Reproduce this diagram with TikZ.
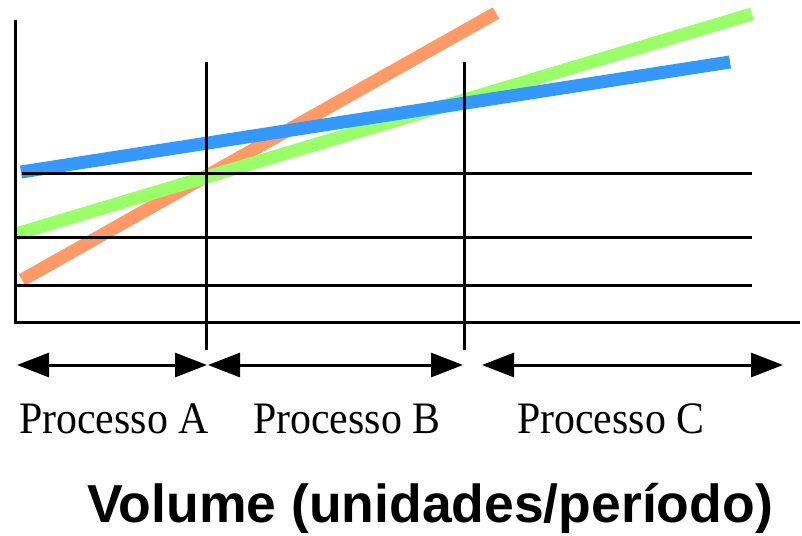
\documentclass[tikz,border=0pt]{standalone}
\usepackage{fontspec}
\setmainfont{Liberation Serif}
\newfontfamily\labelsans{Liberation Sans}
\usetikzlibrary{arrows.meta}

\definecolor{costA}{HTML}{FF9966}
\definecolor{costB}{HTML}{99FF66}
\definecolor{costC}{HTML}{3399FF}

\tikzset{
  costline/.style={line width=13pt, line cap=butt},
  gridline/.style={line width=3pt, black},
  span/.style={line width=3pt, black, {Triangle[length=32pt,width=24pt]}-{Triangle[length=32pt,width=24pt]}},
  proclabel/.style={inner sep=0pt, anchor=base west, font=\fontsize{45}{50}\selectfont},
  axislabel/.style={inner sep=0pt, anchor=base, font=\labelsans\bfseries\fontsize{53.5}{60}\selectfont}
}

\begin{document}
\begin{tikzpicture}[x=1pt, y=-1pt]
  \useasboundingbox (0,0) rectangle (802,535);

  % cost lines of the three processes
  \draw[costline, costA] (22,280) -- (496,13);
  \draw[costline, costB] (16,234) -- (752,14);
  \draw[costline, costC] (21,172) -- (730,62);

  % axes
  \coordinate (ytop) at (15,20);
  \coordinate (origin) at (15,322);
  \coordinate (xend) at (800,322);
  \draw[gridline] (ytop) -- (origin) -- (xend);

  % reference levels
  \draw[gridline] (22,173) -- (752,173);
  \draw[gridline] (15,237) -- (752,237);
  \draw[gridline] (15,285) -- (752,285);

  % break-even volumes
  \coordinate (ab top) at (206,62);
  \coordinate (ab bot) at (206,350);
  \coordinate (bc top) at (464,62);
  \coordinate (bc bot) at (464,350);
  \draw[gridline] (ab top) -- (ab bot);
  \draw[gridline] (bc top) -- (bc bot);

  % ranges of each process
  \coordinate (a0) at (17,365);
  \coordinate (a1) at (207,365);
  \coordinate (b0) at (208,365);
  \coordinate (b1) at (463,365);
  \coordinate (c0) at (482,365);
  \coordinate (c1) at (783,365);
  \draw[span] (a0) -- (a1);
  \draw[span] (b0) -- (b1);
  \draw[span] (c0) -- (c1);

  \node[proclabel] (procA) at (19,433) {\scalebox{0.93}[1]{Processo A}};
  \node[proclabel] (procB) at (253,433) {\scalebox{0.93}[1]{Processo B}};
  \node[proclabel] (procC) at (517,433) {\scalebox{0.93}[1]{Processo C}};

  \node[axislabel] (volume) at (430,522) {Volume (unidades/período)};
\end{tikzpicture}
\end{document}
